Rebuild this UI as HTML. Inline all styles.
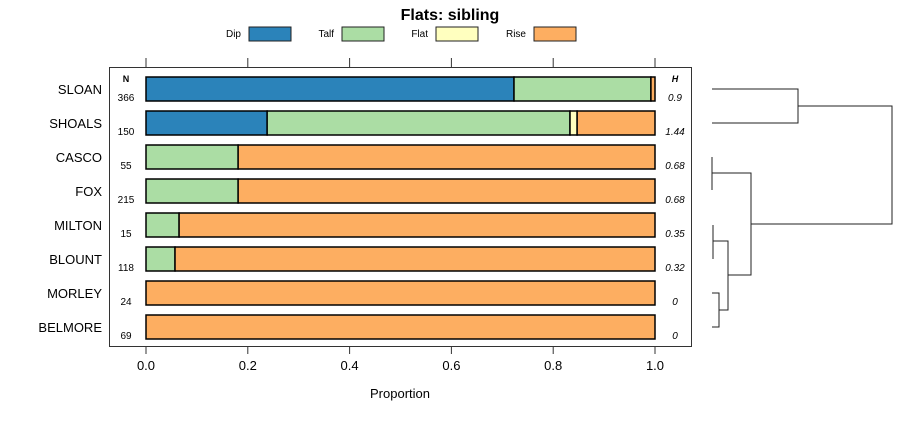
<!DOCTYPE html>
<html><head><meta charset="utf-8"><style>
body{margin:0;background:#fff;font-family:"Liberation Sans",sans-serif}
</style></head><body>
<svg id="c" width="900" height="420" xmlns="http://www.w3.org/2000/svg" font-family="Liberation Sans, sans-serif"></svg>
<script>
const sites=["SLOAN","SHOALS","CASCO","FOX","MILTON","BLOUNT","MORLEY","BELMORE"];
const nVals=[366,150,55,215,15,118,24,69];
const hVals=["0.9","1.44","0.68","0.68","0.35","0.32","0","0"];
const dip=[0.723,0.238,0,0,0,0,0,0];
const talf=[0.269,0.595,0.181,0.181,0.065,0.057,0,0];
const flat=[0,0.014,0,0,0,0,0,0];
const rise=[0.008,0.153,0.819,0.819,0.935,0.943,1,1];
const cats=["Dip","Talf","Flat","Rise"];
const cols=["#2b83ba","#abdda4","#ffffbf","#fdae61"];
const ticks=[0,0.2,0.4,0.6,0.8,1.0];
const NS="http://www.w3.org/2000/svg",svg=document.getElementById('c');
function el(t,a,txt){const e=document.createElementNS(NS,t);for(const k in a)e.setAttribute(k,a[k]);if(txt!=null)e.textContent=txt;svg.appendChild(e);return e;}
const X=v=>146+v*509, Y=i=>89+i*34;
let e=el('text',{x:450,y:20,'text-anchor':'middle','font-size':16,'font-weight':'bold'},'Flats: sibling');

const lx=[249,342,436,534];
cats.forEach((c,k)=>{
 let t=el('text',{x:lx[k]-8,y:37,'text-anchor':'end','font-size':10},c);
 
 let r=el('rect',{x:lx[k],y:27,width:42,height:14,fill:cols[k],stroke:'#222','stroke-width':1});
 
});
e=el('rect',{x:109.5,y:67.5,width:582,height:279,fill:'none',stroke:'#333'});

ticks.forEach(v=>{
 el('line',{x1:X(v),x2:X(v),y1:58,y2:67,stroke:'#333'});
 el('line',{x1:X(v),x2:X(v),y1:347,y2:354,stroke:'#333'});
 let t=el('text',{x:X(v),y:370,'text-anchor':'middle','font-size':13},v.toFixed(1));
 
});
e=el('text',{x:400,y:398,'text-anchor':'middle','font-size':13},'Proportion');

el('text',{x:126,y:82,'text-anchor':'middle','font-size':9,'font-weight':'bold'},'N');
el('text',{x:675,y:82,'text-anchor':'middle','font-size':9,'font-weight':'bold','font-style':'italic'},'H');
const series=[dip,talf,flat,rise];
sites.forEach((s,i)=>{
 let t=el('text',{x:102,y:Y(i)+5,'text-anchor':'end','font-size':13},s);
 
 el('text',{x:126,y:Y(i)+12,'text-anchor':'middle','font-size':10},nVals[i]);
 el('text',{x:675,y:Y(i)+12,'text-anchor':'middle','font-size':10,'font-style':'italic'},hVals[i]);
 let acc=0;
 series.forEach((ser,k)=>{
  const v=ser[i]; if(v<=0)return;
  let r=el('rect',{x:X(acc),y:Y(i)-12,width:X(acc+v)-X(acc),height:24,fill:cols[k],stroke:'#000','stroke-width':1.5});
  
  acc+=v;
 });
});
const d="M712 89H798V123H712 M798 106H892V224H751 M712 157V190 M712 173H751V275H728 M713 225V259 M713 241H728V310H719 M712 293H719V327H712";
e=el('path',{d:d,fill:'none',stroke:'#222','stroke-width':1});

</script>
</body></html>
